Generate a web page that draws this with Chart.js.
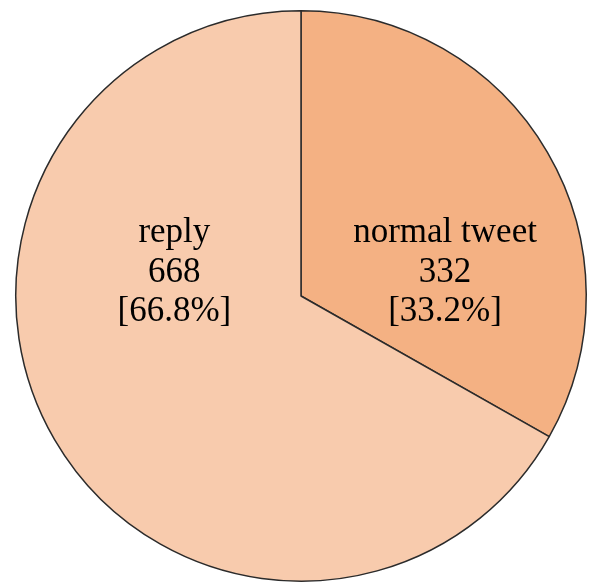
<!DOCTYPE html>
<html>
<head>
<meta charset="utf-8">
<script src="https://cdn.jsdelivr.net/npm/chart.js@4/dist/chart.umd.min.js"></script>
<style>
  html, body { margin: 0; padding: 0; background: #ffffff; }
  #wrap { width: 590px; height: 583px; }
</style>
</head>
<body>
<div id="wrap"><canvas id="pieChart" width="590" height="583"></canvas></div>
<script>
// chart data
const categories = ['normal tweet', 'reply'];
const counts = [332, 668];
const sliceColors = ['#F4B183', '#F8CBAD'];

// where each label block sits, as a fraction of the radius from the centre
const labelOffsets = [[0.505, -0.05], [-0.444, -0.05]];

const total = counts.reduce((a, b) => a + b, 0);

// draws "name / count / [percent]" inside each slice
const sliceLabels = {
    id: 'sliceLabels',
    afterDatasetsDraw(chart) {
        const ctx = chart.ctx;
        const arcs = chart.getDatasetMeta(0).data;
        ctx.save();
        ctx.fillStyle = '#000000';
        ctx.font = '35px "Liberation Serif", "Times New Roman", serif';
        ctx.textAlign = 'center';
        ctx.textBaseline = 'alphabetic';
        arcs.forEach((arc, i) => {
            const r = arc.outerRadius;
            const x = arc.x + labelOffsets[i][0] * r;
            const y = arc.y + labelOffsets[i][1] * r;
            const pct = (counts[i] / total * 100).toFixed(1);
            ctx.fillText(categories[i], x, y - 40);
            ctx.fillText(String(counts[i]), x, y);
            ctx.fillText('[' + pct + '%]', x, y + 39);
        });
        ctx.restore();
    }
};

const pieCtx = document.getElementById('pieChart').getContext('2d');
const pieChart = new Chart(pieCtx, {
    type: 'pie',
    data: {
        labels: categories,
        datasets: [{
            data: counts,
            backgroundColor: sliceColors,
            borderColor: '#2b2b2b',
            borderWidth: 1.5,
            hoverOffset: 0
        }]
    },
    options: {
        responsive: false,
        animation: false,
        layout: {
            padding: { top: 10, bottom: 1, left: 15, right: 3 }
        },
        plugins: {
            legend: { display: false },
            tooltip: { enabled: false }
        }
    },
    plugins: [sliceLabels]
});
</script>
</body>
</html>
